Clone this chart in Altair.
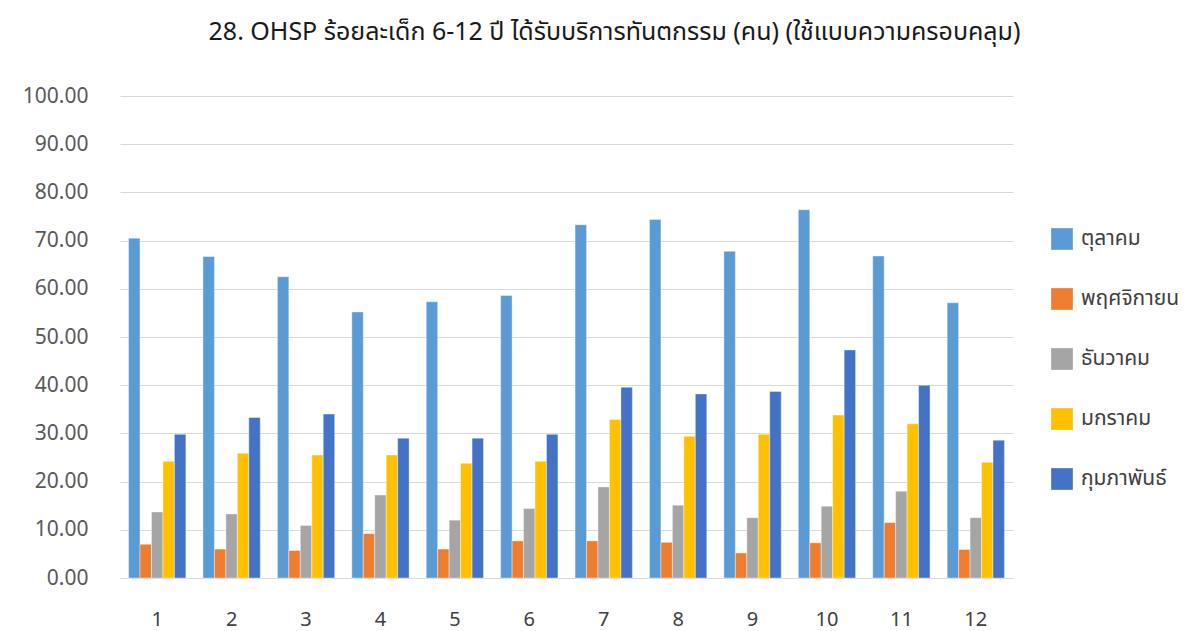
import altair as alt
import pandas as pd

months = ["ตุลาคม", "พฤศจิกายน", "ธันวาคม", "มกราคม", "กุมภาพันธ์"]
groups = [str(i) for i in range(1, 13)]
colors = ["#5B9BD5", "#ED7D31", "#A5A5A5", "#FFC000", "#4472C4"]

oct_vals = [70.5, 66.7, 62.5, 55.2, 57.3, 58.6, 73.3, 74.4, 67.8, 76.4, 66.8, 57.1]
nov_vals = [7.0, 6.0, 5.7, 9.2, 6.0, 7.7, 7.7, 7.4, 5.2, 7.3, 11.5, 5.9]
dec_vals = [13.7, 13.3, 10.9, 17.2, 12.0, 14.4, 18.9, 15.1, 12.5, 14.9, 18.0, 12.5]
jan_vals = [24.2, 25.9, 25.5, 25.5, 23.8, 24.2, 32.9, 29.4, 29.8, 33.8, 32.0, 24.0]
feb_vals = [29.8, 33.3, 34.0, 29.0, 29.0, 29.8, 39.6, 38.2, 38.7, 47.3, 40.0, 28.6]

series = [oct_vals, nov_vals, dec_vals, jan_vals, feb_vals]
rows = []
for m, vals in zip(months, series):
    for g, v in zip(groups, vals):
        rows.append({"group": g, "month": m, "value": v})
df = pd.DataFrame(rows)

FONT = "'Noto Sans', 'Noto Sans Thai', Tahoma, sans-serif"

chart = alt.Chart(df).mark_bar(stroke="white", strokeWidth=0.4).encode(
    x=alt.X("group:N", sort=groups, title=None,
            scale=alt.Scale(paddingInner=0.23, paddingOuter=0.115),
            axis=alt.Axis(labelAngle=0, ticks=False, domainColor="#d9d9d9",
                          labelFontSize=20, labelColor="#404040", labelPadding=31,
                          labelFont=FONT)),
    xOffset=alt.XOffset("month:N", sort=months, scale=alt.Scale(paddingInner=0, paddingOuter=0)),
    y=alt.Y("value:Q", title=None,
            scale=alt.Scale(domain=[0, 100], nice=False),
            axis=alt.Axis(values=list(range(0, 101, 10)), format=".2f", domain=False,
                          ticks=False, gridColor="#d9d9d9", gridWidth=1,
                          labelFontSize=21, labelColor="#595959", labelPadding=32,
                          labelFont=FONT)),
    color=alt.Color("month:N", sort=months, title=None,
                    scale=alt.Scale(domain=months, range=colors),
                    legend=alt.Legend(orient="none", legendX=931, legendY=132,
                                      symbolType="square", symbolSize=470,
                                      symbolStrokeWidth=0, rowPadding=38,
                                      labelFontSize=21, labelColor="#404040",
                                      labelOffset=8, labelFont=FONT, labelLimit=200)),
).properties(
    width=893,
    height=482,
    title=alt.TitleParams("28. OHSP ร้อยละเด็ก 6-12 ปี ได้รับบริการทันตกรรม (คน) (ใช้แบบความครอบคลุม)",
                          fontSize=25, fontWeight="normal", color="#1a1a1a", font=FONT,
                          anchor="middle", dx=48, offset=40),
    padding={"left": 112, "top": 88, "right": 172, "bottom": 56},
    autosize=alt.AutoSizeParams(type="none"),
).configure_view(stroke=None)

chart.save("out.html", embed_options={"renderer": "svg", "actions": False})
